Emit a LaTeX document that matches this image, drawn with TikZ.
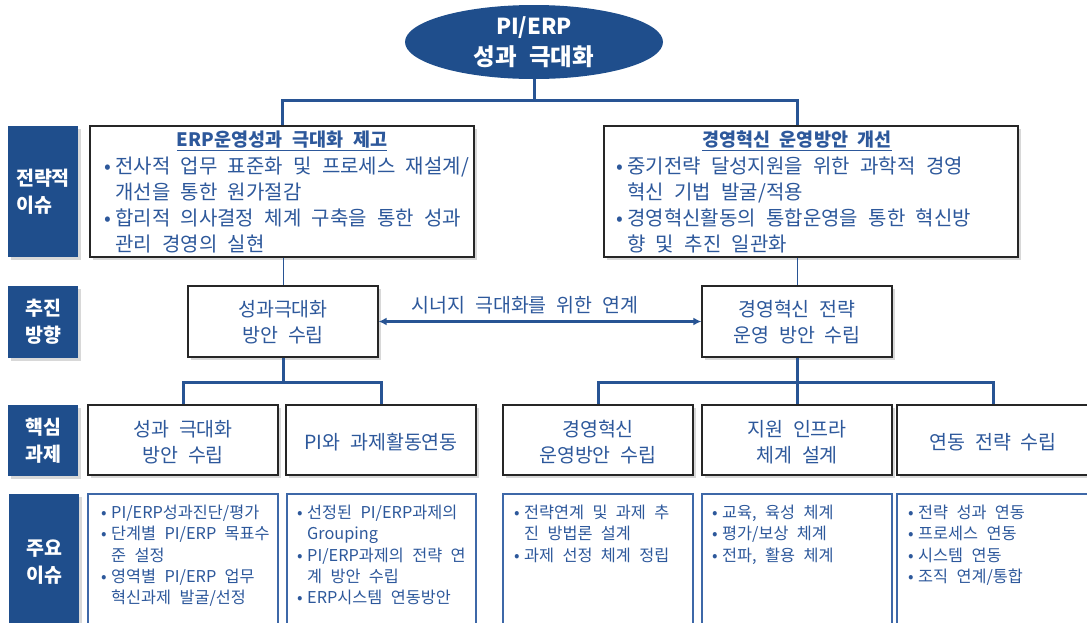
\documentclass[tikz,border=0pt]{standalone}
\usepackage{fontspec}
\setmainfont[WordSpace=2.3]{Noto Sans CJK KR}
\usetikzlibrary{shapes.geometric,shadows,arrows.meta}
\definecolor{navy}{RGB}{31,78,140}
\definecolor{lineblue}{RGB}{40,84,148}
\definecolor{txtblue}{RGB}{45,88,155}
\definecolor{boxblue}{RGB}{62,104,168}
\newcommand{\bul}{\makebox[11pt][l]{•}}
\newcommand{\ind}{\hspace*{11pt}}
\newcommand{\sbul}{\makebox[10pt][l]{•}}
\newcommand{\sind}{\hspace*{10pt}}
\begin{document}
\begin{tikzpicture}[x=1pt,y=-1pt,
  shad/.style={drop shadow={shadow xshift=3pt,shadow yshift=-3pt,fill=black!30,opacity=0.5}},
  lab/.style={fill=navy,text=white,font=\bfseries\fontsize{19.5}{27}\selectfont,align=left,minimum width=70,inner sep=0,shad},
  sbox/.style={draw=black!85,line width=1.3,fill=white,inner sep=0,shad},
  ibox/.style={draw=boxblue,line width=1.1},
  conn/.style={draw=lineblue,line width=3},
  thinc/.style={draw=lineblue,line width=0.9},
  arr/.style={draw=lineblue,line width=2.2,{Latex[length=8,width=8]}-{Latex[length=8,width=8]}},
  stitle/.style={font=\bfseries\fontsize{18.5}{22}\selectfont,text=txtblue,inner sep=0},
  stext/.style={font=\fontsize{20}{26}\selectfont,text=txtblue,align=left,inner sep=0,anchor=west},
  mtext/.style={font=\fontsize{19.5}{26}\selectfont,text=txtblue,align=center,inner sep=0},
  itext/.style={font=\fontsize{16.3}{21.3}\selectfont,text=txtblue,align=left,inner sep=0,anchor=north west}
]
\useasboundingbox (0,0) rectangle (1087,622);
\clip (0,0) rectangle (1087,622);

% top ellipse
\node[ellipse,fill=navy,minimum width=258,minimum height=74,inner sep=0,text=white,
  font=\bfseries\fontsize{22}{30}\selectfont,align=center] (top) at (534,42) {PI/ERP\\[1pt]{\fontsize{23.5}{30}\selectfont 성과 극대화}};

% row labels
\node[lab,minimum height=131] (l1) at (43,191.5) {전략적\\이슈};
\node[lab,minimum height=72] (l2) at (43,321.5) {추진\\방향};
\node[lab,minimum height=71] (l3) at (43,440.5) {핵심\\과제};
\node[lab,minimum height=136] (l4) at (44,562) {주요\\이슈};

% strategy boxes
\node[sbox,minimum width=384,minimum height=131] (s1) at (282,191.5) {};
\node[sbox,minimum width=414,minimum height=131] (s2) at (811,191.5) {};
\node[stitle] (s1h) at (282,141) {\underline{ERP운영성과 극대화 제고}};
\node[stitle] (s2h) at (797,141) {\underline{경영혁신 운영방안 개선}};
\node[stext] (s1t) at (104,205) {\bul 전사적 업무 표준화 및 프로세스 재설계/\\\ind 개선을 통한 원가절감\\\bul 합리적 의사결정 체계 구축을 통한 성과\\\ind 관리 경영의 실현};
\node[stext] (s2t) at (616,205) {\bul 중기전략 달성지원을 위한 과학적 경영\\\ind 혁신 기법 발굴/적용\\\bul 경영혁신활동의 통합운영을 통한 혁신방\\\ind 향 및 추진 일관화};

% direction boxes
\node[sbox,minimum width=190,minimum height=71] (d1) at (283,321.5) {};
\node[sbox,minimum width=190,minimum height=71] (d2) at (797,321.5) {};
\node[mtext] (d1t) at (283,322) {성과극대화\\방안 수립};
\node[mtext] (d2t) at (797,322) {경영혁신 전략\\운영 방안 수립};

% core task boxes
\node[sbox,minimum width=190,minimum height=70] (c1) at (183,440) {};
\node[sbox,minimum width=190,minimum height=70] (c2) at (381,440) {};
\node[sbox,minimum width=190,minimum height=70] (c3) at (598,440) {};
\node[sbox,minimum width=190,minimum height=70] (c4) at (797,440) {};
\node[sbox,minimum width=192,minimum height=70] (c5) at (993,440) {};
\node[mtext] (c1t) at (183,442) {성과 극대화\\방안 수립};
\node[mtext] (c2t) at (381,442) {PI와 과제활동연동};
\node[mtext] (c3t) at (598,442) {경영혁신\\운영방안 수립};
\node[mtext] (c4t) at (797,442) {지원 인프라\\체계 설계};
\node[mtext] (c5t) at (993,442) {연동 전략 수립};

% main issue boxes (open at the bottom edge)
\draw[ibox] (88,630) |- (278,494) -- (278,630);
\draw[ibox] (287,630) |- (476,494) -- (476,630);
\draw[ibox] (503,630) |- (693,494) -- (693,630);
\draw[ibox] (702,630) |- (892,494) -- (892,630);
\draw[ibox] (897,630) |- (1095,494);
\node[itext] (i1) at (101,505) {\sbul PI/ERP성과진단/평가\\\sbul 단계별 PI/ERP 목표수\\\sind 준 설정\\\sbul 영역별 PI/ERP 업무\\\sind 혁신과제 발굴/선정};
\node[itext] (i2) at (297,505) {\sbul 선정된 PI/ERP과제의\\\sind Grouping\\\sbul PI/ERP과제의 전략 연\\\sind 계 방안 수립\\\sbul ERP시스템 연동방안};
\node[itext] (i3) at (514,505) {\sbul 전략연계 및 과제 추\\\sind 진 방법론 설계\\\sbul 과제 선정 체계 정립};
\node[itext] (i4) at (712,505) {\sbul 교육, 육성 체계\\\sbul 평가/보상 체계\\\sbul 전파, 활용 체계};
\node[itext] (i5) at (908,505) {\sbul 전략 성과 연동\\\sbul 프로세스 연동\\\sbul 시스템 연동\\\sbul 조직 연계/통합};

% connectors
\coordinate (j1) at (534,100);
\draw[conn] (top.south) -- (j1);
\draw[conn] (s1.north) |- (j1) -| (d2.north |- s2.north);
\draw[thinc] (d1.north |- s1.south) -- (d1.north);
\draw[thinc] (d2.north |- s2.south) -- (d2.north);
\draw[arr] (d1.east) -- (d2.west);
\node[font=\fontsize{19.5}{24}\selectfont,text=txtblue,inner sep=0] (syn) at (525,305) {시너지 극대화를 위한 연계};

\path (d1.south) ++(0,25) coordinate (j2);
\path (d2.south) ++(0,25) coordinate (j3);
\draw[conn] (d1.south) -- (j2);
\draw[conn] (c1.north) |- (j2) -| (c2.north);
\draw[conn] (d2.south) -- (c4.north);
\draw[conn] (c3.north) |- (j3) -| (c5.north);
\end{tikzpicture}
\end{document}
